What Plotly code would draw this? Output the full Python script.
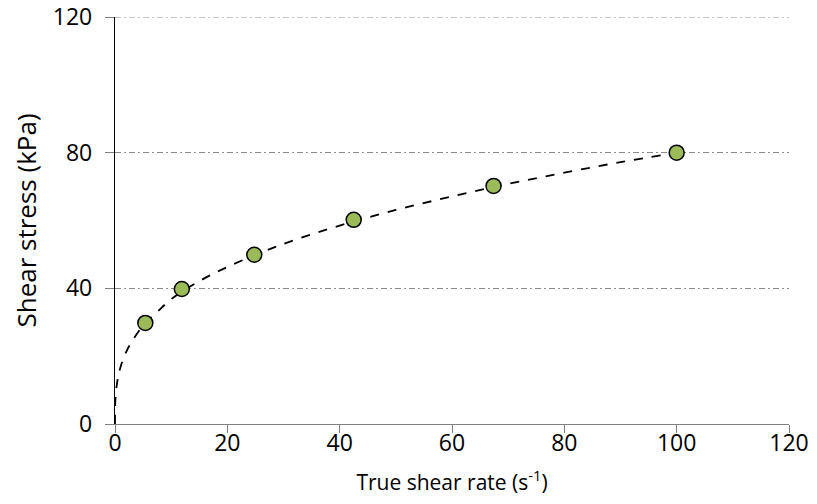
import plotly.graph_objects as go

# Measured points
shear_rate = [5.4, 11.9, 24.8, 42.5, 67.4, 100.0]
shear_stress = [29.8, 39.8, 49.9, 60.2, 70.2, 80.0]

# Trend curve
curve_x = [0, 0.05, 0.2, 0.5, 1, 2, 3, 5, 7.5, 10, 15, 20, 30, 40, 50, 60, 70, 80, 90, 100]
curve_y = [0, 6.3, 9.9, 13.4, 16.9, 21.3, 24.3, 29.0, 33.0, 36.8, 42.1, 46.3, 53.1, 58.5, 63.1, 67.1, 70.8, 74.1, 77.2, 80.0]

x_ticks = [0, 20, 40, 60, 80, 100, 120]
y_ticks = [0, 40, 80, 120]
y_max = 120

FONT = "Open Sans"
GRID = dict(color="#8c8c8c", width=1, dash="6px,3px,2px,3px")

fig = go.Figure()
fig.add_trace(go.Scatter(
    x=curve_x, y=curve_y, mode="lines",
    line=dict(color="black", width=1.8, dash="dash", shape="spline"),
    hoverinfo="skip", showlegend=False,
))
fig.add_trace(go.Scatter(
    x=shear_rate, y=shear_stress, mode="markers",
    marker=dict(size=15, color="#9BBB59", line=dict(color="black", width=1.5)),
    showlegend=False,
))

# top gridline sits on the plot edge, where plotly drops it; draw it explicitly
fig.add_shape(type="line", xref="paper", x0=0, x1=1, yref="y", y0=y_max, y1=y_max,
              line=GRID, layer="below")

# page body has an 8px margin, so the figure is sized/offset to compensate
fig.update_layout(
    width=801, height=488,
    margin=dict(l=107, r=20, t=9, b=72),
    plot_bgcolor="white", paper_bgcolor="white",
    font=dict(family=FONT, size=22, color="black"),
    xaxis=dict(
        range=[0, 120], tickvals=x_ticks, showgrid=False, zeroline=False,
        automargin=False, ticklabeloverflow="allow",
        showline=True, linecolor="#7f7f7f", linewidth=1.3,
        ticks="outside", ticklen=8, tickcolor="#7f7f7f", tickwidth=1.3,
        ticklabelstandoff=-10,
        title=dict(text="True shear rate (s<sup>-1</sup>)", standoff=22,
                   font=dict(family=FONT, size=21)),
        tickfont=dict(family=FONT, size=23),
    ),
    yaxis=dict(
        range=[0, y_max], tickvals=y_ticks, showgrid=True,
        gridcolor=GRID["color"], gridwidth=GRID["width"], griddash=GRID["dash"],
        zeroline=False, automargin=False, ticklabeloverflow="allow",
        showline=True, linecolor="black", linewidth=1.3,
        ticks="outside", ticklen=9, tickcolor="#7f7f7f", tickwidth=1.3,
        ticklabelstandoff=8,
        title=dict(text="Shear stress (kPa)", standoff=21,
                   font=dict(family=FONT, size=26)),
        tickfont=dict(family=FONT, size=23),
    ),
)

fig.write_html("out.html")
